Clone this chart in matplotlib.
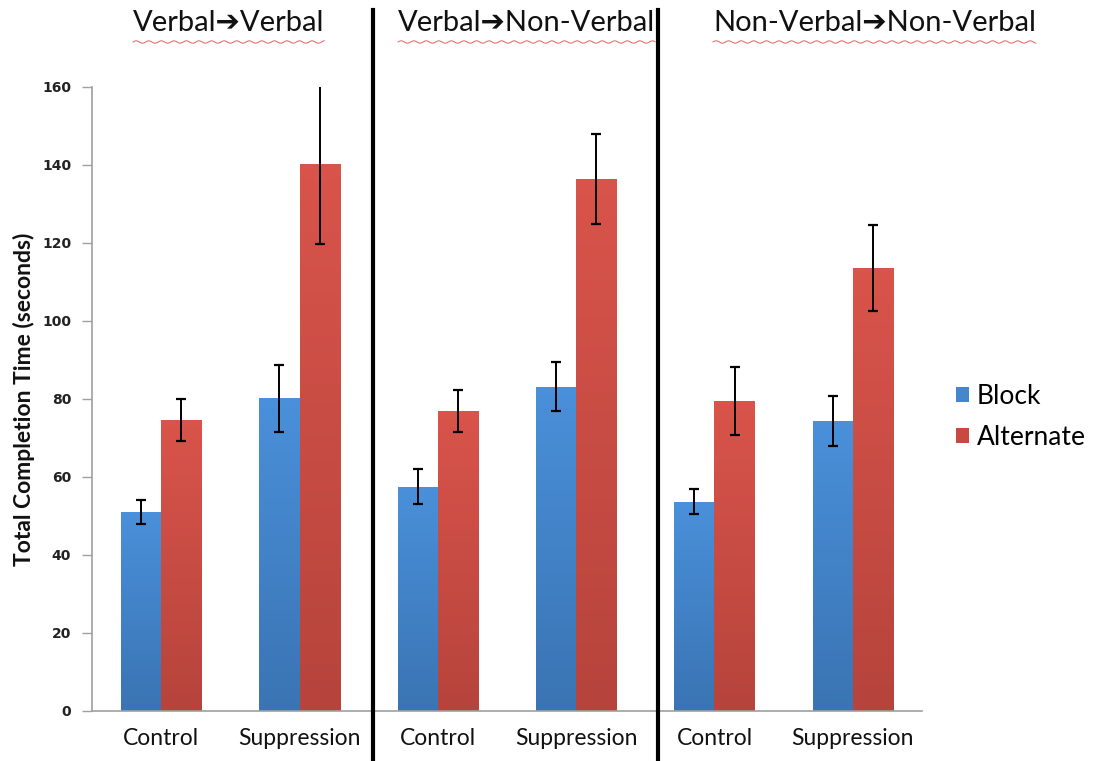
import numpy as np
import matplotlib
matplotlib.use("Agg")
import matplotlib.pyplot as plt
from matplotlib.colors import LinearSegmentedColormap
from matplotlib.lines import Line2D
from matplotlib.patches import Patch

# ---- data -------------------------------------------------------------
groups = ["Verbal\u2794Verbal", "Verbal\u2794Non-Verbal", "Non-Verbal\u2794Non-Verbal"]
conditions = ["Control", "Suppression"]
series_names = ["Block", "Alternate"]
block_mean = [51.0, 80.2, 57.5, 83.1, 53.6, 74.4]
block_err = [3.1, 8.6, 4.5, 6.3, 3.2, 6.4]
alt_mean = [74.6, 140.2, 76.9, 136.4, 79.5, 113.6]
alt_err = [5.3, 20.4, 5.3, 11.5, 8.8, 11.0]
y_ticks = [0, 20, 40, 60, 80, 100, 120, 140, 160]

W, H = 1099, 761
fig = plt.figure(figsize=(W / 100, H / 100), dpi=100)
fig.patch.set_facecolor("white")

ax = fig.add_axes([92 / W, 1 - 711 / H, (922 - 92) / W, (711 - 87) / H])

labels = conditions * len(groups)
x = np.arange(len(labels))
bw = 0.29

blue_cmap = LinearSegmentedColormap.from_list("b", ["#3a74b3", "#4a90da"])
red_cmap = LinearSegmentedColormap.from_list("r", ["#b6443c", "#d9544b"])
grad = np.linspace(0, 1, 256).reshape(-1, 1)


def gradient_bars(xpos, heights, cmap, face):
    bars = ax.bar(xpos, heights, width=bw, color=face, edgecolor="none", zorder=2)
    for b in bars:
        x0, w, h = b.get_x(), b.get_width(), b.get_height()
        im = ax.imshow(grad, cmap=cmap, origin="lower", aspect="auto",
                       extent=[x0, x0 + w, 0, h], zorder=2.1)
        im.set_clip_path(b)
    return bars


gradient_bars(x - bw / 2, block_mean, blue_cmap, "#4283c8")
gradient_bars(x + bw / 2, alt_mean, red_cmap, "#cc4c43")
ax.errorbar(x - bw / 2, block_mean, yerr=block_err, fmt="none", ecolor="black",
            elinewidth=1.4, capsize=3.5, capthick=1.6, zorder=3)
ax.errorbar(x + bw / 2, alt_mean, yerr=alt_err, fmt="none", ecolor="black",
            elinewidth=1.4, capsize=3.5, capthick=1.6, zorder=3)

ax.set_xlim(-0.5, len(labels) - 0.5)
ax.set_ylim(0, 160)
ax.set_yticks(y_ticks)
ax.set_yticklabels([str(v) for v in y_ticks], fontsize=10, fontweight="bold",
                   family="DejaVu Sans", color="#222222")
ax.set_xticks(x)
ax.set_xticklabels(labels, fontsize=16.5, family="Lato", color="#111111")
ax.tick_params(axis="x", length=0, pad=12)
ax.tick_params(axis="y", length=7, width=1, color="#a0a0a0", pad=8, direction="out")
for s in ["top", "right"]:
    ax.spines[s].set_visible(False)
ax.spines["left"].set_color("#a0a0a0")
ax.spines["bottom"].set_color("#a0a0a0")
ax.spines["left"].set_linewidth(1.2)
ax.spines["bottom"].set_linewidth(1.2)

ax.set_ylabel("Total Completion Time (seconds)", fontsize=16.5, fontweight="bold",
              family="Lato", color="#111111", labelpad=5)

# separators between the three task blocks
for px in (373, 658):
    fig.add_artist(Line2D([px / W, px / W], [0, 1 - 10 / H], color="black",
                          linewidth=3, transform=fig.transFigure))

# group headings with a squiggly underline
title_left = [133, 398, 713]
texts = []
for g, px in zip(groups, title_left):
    t = fig.text(px / W, 1 - 23 / H, g, ha="left", va="center", fontsize=21,
                 family=["Lato", "DejaVu Sans"], color="#111111")
    texts.append(t)

fig.canvas.draw()
renderer = fig.canvas.get_renderer()
for t in texts:
    bb = t.get_window_extent(renderer)
    xs = np.linspace(bb.x0, bb.x1, 500)
    ys = (H - 42) + 1.2 * np.sin((xs - bb.x0) / 2.0)
    fig.add_artist(Line2D(xs / W, ys / H, color="#e66060", linewidth=0.7,
                          transform=fig.transFigure))

# legend
handles = [Patch(facecolor="#4586cc", edgecolor="none"),
           Patch(facecolor="#c94840", edgecolor="none")]
leg = fig.legend(handles, series_names, loc="center left",
                 bbox_to_anchor=(938 / W, 1 - 417 / H), frameon=False,
                 prop={"family": "Lato", "size": 19}, handlelength=0.48,
                 handleheight=0.48, handletextpad=0.3, labelspacing=0.6,
                 borderpad=0.2)

fig.savefig("out.png", dpi=100, facecolor="white")
